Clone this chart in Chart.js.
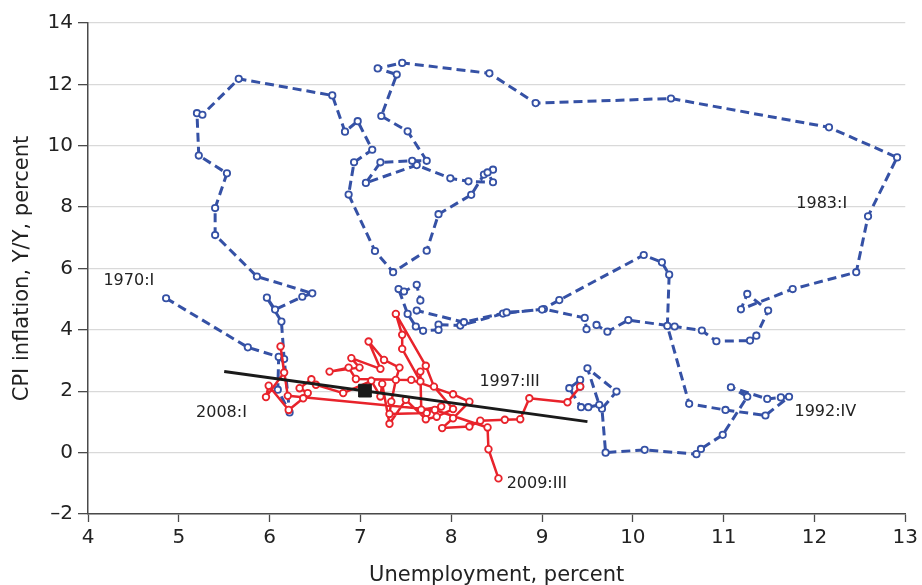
<!DOCTYPE html>
<html>
<head>
<meta charset="utf-8">
<script src="https://cdn.jsdelivr.net/npm/chart.js@4.4.1/dist/chart.umd.min.js"></script>
<style>
  html, body { margin: 0; padding: 0; background: #ffffff; }
  #wrap { width: 922px; height: 585px; }
</style>
</head>
<body>
<div id="wrap"><canvas id="chart" width="922" height="585"></canvas></div>
<script>
// Quarterly unemployment rate (percent) and CPI inflation (Y/Y, percent)
// 1970:I - 1997:III
const earlyUnemployment = [
  4.86, 5.76, 6.10, 6.09, 6.22, 6.16, 6.13, 5.97, 6.06, 6.36,
  6.47, 5.86, 5.40, 5.40, 5.53, 5.22, 5.20, 5.26, 5.66, 6.69,
  6.83, 6.97, 7.13, 6.93, 6.87, 7.16, 7.36, 7.73, 7.86, 8.22,
  8.36, 8.46, 8.40, 8.46, 8.19, 7.99, 7.62, 7.06, 7.22, 7.57,
  7.73, 7.52, 7.23, 7.40, 7.19, 7.46, 8.42, 8.93, 10.42, 12.16,
  12.91, 12.59, 12.46, 11.76, 11.19, 11.26, 11.49, 11.36, 11.29, 10.92,
  10.76, 10.46, 9.95, 9.72, 9.60, 9.49, 9.47, 9.02, 8.57, 8.10,
  7.86, 7.86, 7.69, 7.61, 7.52, 7.42, 7.48, 7.62, 7.66, 7.62,
  8.14, 8.61, 9.00, 9.19, 10.12, 10.32, 10.40, 10.38, 10.62, 11.02,
  11.46, 11.72, 11.63, 11.48, 11.08, 11.26, 10.99, 10.75, 10.70, 10.13,
  9.70, 9.66, 9.82, 9.50, 9.63, 9.51, 9.43, 9.30, 9.42, 9.42
];
const earlyInflation = [
  5.03, 3.43, 3.12, 2.05, 1.31, 3.05, 4.27, 5.05, 4.66, 5.08,
  5.19, 5.74, 7.09, 7.97, 9.10, 9.68, 11.06, 11.01, 12.18, 11.64,
  10.46, 10.80, 9.87, 9.46, 8.41, 6.57, 5.88, 6.58, 7.77, 8.40,
  9.06, 9.22, 9.13, 8.81, 8.84, 8.94, 9.37, 8.79, 9.46, 9.51,
  9.51, 10.47, 10.97, 12.32, 12.52, 12.70, 12.36, 11.39, 11.54, 10.60,
  9.62, 7.70, 5.88, 5.33, 4.67, 5.17, 4.63, 3.81, 3.65, 3.63,
  3.98, 4.11, 4.32, 3.94, 4.16, 4.02, 4.39, 4.68, 4.53, 4.14,
  4.17, 4.00, 3.97, 4.11, 4.52, 5.33, 5.25, 5.47, 4.96, 4.63,
  4.25, 4.57, 4.66, 4.97, 6.44, 6.20, 5.80, 4.13, 1.59, 1.39,
  1.21, 1.82, 1.80, 1.75, 2.13, 1.82, 0.58, 0.12, -0.05, 0.09,
  0.00, 1.43, 1.99, 2.75, 1.56, 1.48, 1.48, 2.10, 2.37, 2.15
];

// 1997:III - 2009:III
const lateUnemployment = [
  9.42, 9.28, 8.86, 8.76, 8.59, 8.32, 8.20, 7.90, 8.02, 8.20,
  8.02, 7.56, 6.95, 6.87, 6.66, 6.99, 6.90, 7.22, 7.09, 7.26,
  7.43, 7.39, 7.34, 7.32, 7.73, 7.89, 7.67, 7.66, 7.66, 7.46,
  7.46, 7.39, 7.72, 7.81, 8.02, 7.84, 7.72, 7.50, 7.32, 7.24,
  7.22, 7.12, 6.81, 6.51, 6.46, 6.33, 6.42, 6.37, 6.21, 5.99,
  5.96, 6.16, 6.12, 6.20, 7.82, 8.40, 8.41, 8.52
];
const lateInflation = [
  2.15, 1.64, 1.77, 1.09, 1.07, 1.04, 0.85, 0.80, 1.12, 1.66,
  1.90, 2.37, 2.40, 2.77, 2.64, 2.77, 3.08, 2.73, 3.62, 3.02,
  2.77, 2.37, 1.66, 1.26, 1.29, 1.50, 1.40, 2.64, 2.32, 3.38,
  3.84, 4.52, 2.83, 2.15, 1.42, 1.17, 1.09, 1.72, 0.94, 2.24,
  1.83, 2.34, 1.94, 2.21, 2.39, 2.10, 1.94, 1.77, 1.39, 2.18,
  1.81, 2.61, 3.46, 1.85, 1.39, 0.82, 0.11, -0.84
];

// Fitted line for the later period and its mean point
const fitUnemployment = [5.5, 9.5];
const fitInflation = [2.64, 1.01];
const meanUnemployment = [7.05];
const meanInflation = [2.02];

// Axis ticks
const xTicks = [4, 5, 6, 7, 8, 9, 10, 11, 12, 13];
const yTicks = [-2, 0, 2, 4, 6, 8, 10, 12, 14];

// Period annotations (anchored at the left edge of the text)
const periodLabels = ['1970:I', '1983:I', '1997:III', '2008:I', '1992:IV', '2009:III'];
const periodLabelUnemployment = [4.17, 11.80, 8.31, 5.19, 11.78, 8.61];
const periodLabelInflation = [5.60, 8.11, 2.31, 1.30, 1.34, -1.02];

const zip = (xs, ys) => xs.map((x, i) => ({ x: x, y: ys[i] }));

const FONT = '"DejaVu Sans", "Liberation Sans", Arial, sans-serif';
const BLUE = '#3551a5';
const RED = '#e8232b';
const TEXT = '#222222';
const AXIS = '#4a4a4a';

const periodLabelPlugin = {
  id: 'periodLabels',
  afterDatasetsDraw(chart) {
    const { ctx, scales } = chart;
    ctx.save();
    ctx.font = '16px ' + FONT;
    ctx.fillStyle = TEXT;
    ctx.textAlign = 'left';
    ctx.textBaseline = 'middle';
    periodLabels.forEach((t, i) => {
      const px = scales.x.getPixelForValue(periodLabelUnemployment[i]);
      const py = scales.y.getPixelForValue(periodLabelInflation[i]);
      ctx.fillText(t, px, py);
    });
    ctx.restore();
  }
};

new Chart(document.getElementById('chart').getContext('2d'), {
  type: 'scatter',
  data: {
    datasets: [
      {
        data: zip(meanUnemployment, meanInflation),
        showLine: false,
        pointStyle: 'rect',
        pointRadius: 9,
        pointBackgroundColor: '#1a1a1a',
        pointBorderColor: '#1a1a1a',
        pointBorderWidth: 1,
        order: 0
      },
      {
        data: zip(fitUnemployment, fitInflation),
        showLine: true,
        borderColor: '#1a1a1a',
        borderWidth: 3,
        pointRadius: 0,
        order: 1
      },
      {
        data: zip(lateUnemployment, lateInflation),
        showLine: true,
        borderColor: RED,
        borderWidth: 2.5,
        borderJoinStyle: 'round',
        tension: 0,
        pointRadius: 3.3,
        pointBorderWidth: 1.8,
        pointBorderColor: RED,
        pointBackgroundColor: '#ffffff',
        order: 2
      },
      {
        data: zip(earlyUnemployment, earlyInflation),
        showLine: true,
        borderColor: BLUE,
        borderWidth: 3,
        borderDash: [9, 5],
        borderJoinStyle: 'round',
        tension: 0,
        pointRadius: 3.2,
        pointBorderWidth: 1.8,
        pointBorderColor: BLUE,
        pointBackgroundColor: '#ffffff',
        order: 3
      }
    ]
  },
  options: {
    responsive: false,
    animation: false,
    devicePixelRatio: 1,
    layout: { padding: { top: 23, right: 16, bottom: 0, left: 0 } },
    plugins: { legend: { display: false }, tooltip: { enabled: false } },
    scales: {
      x: {
        type: 'linear',
        min: xTicks[0],
        max: xTicks[xTicks.length - 1],
        afterFit: (s) => { s.height = 71; },
        afterBuildTicks: (s) => { s.ticks = xTicks.map(v => ({ value: v })); },
        ticks: { color: TEXT, font: { family: FONT, size: 20 }, padding: 4 },
        grid: { drawOnChartArea: false, drawTicks: true, tickLength: 8, tickColor: AXIS, tickWidth: 1.3 },
        border: { color: AXIS, width: 1.5 },
        title: {
          display: true,
          text: 'Unemployment, percent',
          color: TEXT,
          font: { family: FONT, size: 21 },
          padding: { top: 0, bottom: -3 }
        }
      },
      y: {
        type: 'linear',
        min: yTicks[0],
        max: yTicks[yTicks.length - 1],
        afterFit: (s) => { s.width = 88; },
        afterBuildTicks: (s) => { s.ticks = yTicks.map(v => ({ value: v })); },
        ticks: {
          color: TEXT,
          font: { family: FONT, size: 20 },
          padding: 5,
          callback: (v) => (v < 0 ? '\u2013' + Math.abs(v) : String(v))
        },
        grid: { color: '#d9d9d9', lineWidth: 1.3, drawTicks: true, tickLength: 10, tickColor: AXIS, tickWidth: 1.3 },
        border: { color: AXIS, width: 1.5 },
        title: {
          display: true,
          text: 'CPI inflation, Y/Y, percent',
          color: TEXT,
          font: { family: FONT, size: 21 },
          padding: { top: 10, bottom: 0 }
        }
      }
    }
  },
  plugins: [periodLabelPlugin]
});
</script>
</body>
</html>
